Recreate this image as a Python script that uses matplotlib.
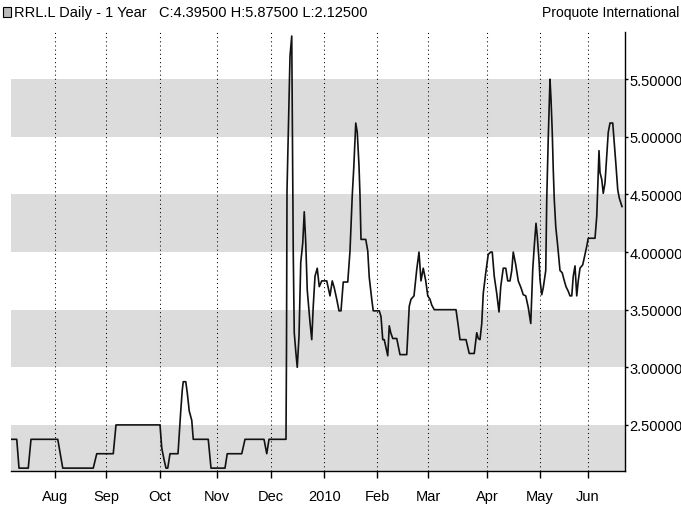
import matplotlib
matplotlib.use("Agg")
import matplotlib.pyplot as plt
from matplotlib.patches import Rectangle

plt.rcParams['font.family'] = ['Liberation Sans', 'DejaVu Sans']

# trading-day index of each vertex, and closing price
day = [0, 2.3, 3.2, 6.9, 8, 18.7, 20.7, 32.9, 34.3, 40.9, 42, 59.6, 60.3, 61.2, 62, 62.7,
       63.6, 66.8, 67.9, 68.5, 68.9, 69.9, 70.5, 71.3, 72.3, 72.9, 78.9, 80, 85.6, 86.5,
       92.3, 93.6, 101.2, 102.3, 103.2, 110, 110.2, 110.4, 111.6, 112.3, 112.5, 112.7,
       112.9, 113.3, 113.9, 114.5, 115.2, 115.9, 116.7, 117.3, 117.9, 118.5, 119.6, 120.3,
       120.9, 121.6, 122.5, 123.3, 124.3, 126.3, 127.2, 127.6, 128.5, 129.3, 130.3, 131.2,
       132, 132.9, 134.7, 135.6, 136.5, 137.1, 137.9, 138.5, 139.2, 139.6, 140, 141.9,
       142.7, 143.3, 144.3, 144.9, 147.3, 148, 148.7, 149.3, 149.9, 150.7, 151.3, 151.9,
       152.7, 154.3, 155.6, 158.3, 159.3, 160, 161.2, 162.3, 163.2, 164, 164.9, 165.9,
       166.7, 167.6, 168.3, 169.3, 178, 178.9, 179.6, 182, 183.3, 185.3, 186.3, 186.9,
       187.6, 188.3, 188.9, 189.9, 190.9, 191.9, 192.5, 193.3, 194.3, 195.2, 195.9, 196.9,
       197.9, 198.7, 199.6, 200.3, 200.9, 201.9, 202.9, 204, 204.9, 205.9, 206.9, 207.9,
       208.7, 209.3, 210, 210.5, 211.2, 211.6, 212.3, 212.9, 213.9, 214.3, 214.9, 215.6,
       216, 216.5, 216.9, 217.3, 217.9, 218.7, 219.6, 220.5, 221.2, 222, 222.9, 223.6,
       224.3, 224.9, 225.6, 226.3, 226.9, 227.6, 228.7, 229.3, 230.3, 230.9, 233.6, 234.3,
       234.9, 235.2, 235.6, 236.3, 236.9, 237.6, 238.3, 238.9, 239.6, 240.7, 241.3, 242,
       242.7, 243.3, 244.4]
close = [2.375, 2.375, 2.125, 2.125, 2.375, 2.375, 2.125, 2.125, 2.25, 2.25, 2.5, 2.5, 2.30,
         2.20, 2.125, 2.125, 2.25, 2.25, 2.62, 2.80, 2.875, 2.875, 2.78, 2.62, 2.54, 2.375,
         2.375, 2.125, 2.125, 2.25, 2.25, 2.375, 2.375, 2.25, 2.375, 2.375, 3.17, 4.53, 5.70,
         5.875, 5.24, 4.52, 4.0, 3.30, 3.14, 3.0, 3.27, 3.91, 4.08, 4.35, 4.08, 3.67, 3.39,
         3.24, 3.53, 3.79, 3.86, 3.70, 3.75, 3.75, 3.66, 3.62, 3.75, 3.69, 3.59, 3.49, 3.49,
         3.74, 3.74, 4.01, 4.49, 4.73, 5.12, 5.04, 4.75, 4.49, 4.11, 4.11, 4.01, 3.78, 3.59,
         3.49, 3.49, 3.44, 3.24, 3.24, 3.18, 3.10, 3.36, 3.30, 3.25, 3.25, 3.11, 3.11, 3.53,
         3.59, 3.62, 3.85, 4.0, 3.75, 3.86, 3.75, 3.62, 3.59, 3.54, 3.5, 3.5, 3.36, 3.24,
         3.24, 3.12, 3.12, 3.30, 3.25, 3.24, 3.38, 3.64, 3.82, 3.98, 4.0, 4.0, 3.79, 3.64,
         3.48, 3.70, 3.86, 3.86, 3.75, 3.75, 3.84, 4.0, 3.89, 3.75, 3.69, 3.63, 3.62, 3.52,
         3.38, 3.85, 4.05, 4.25, 4.14, 3.93, 3.76, 3.63, 3.69, 3.84, 4.46, 4.99, 5.5, 5.33,
         5.04, 4.72, 4.46, 4.22, 4.05, 3.84, 3.82, 3.76, 3.70, 3.66, 3.62, 3.62, 3.79, 3.88,
         3.62, 3.75, 3.86, 3.89, 3.95, 4.05, 4.12, 4.12, 4.31, 4.69, 4.88, 4.69, 4.63, 4.51,
         4.60, 4.83, 5.04, 5.12, 5.12, 4.95, 4.75, 4.54, 4.47, 4.395]

month_pos = [17.6, 38.1, 59.6, 82.5, 103.9, 125.3, 146.5, 166.9, 190.4, 211.5, 230.7]
month_lbl = ["Aug", "Sep", "Oct", "Nov", "Dec", "2010", "Feb", "Mar", "Apr", "May", "Jun"]
price_ticks = [2.5, 3.0, 3.5, 4.0, 4.5, 5.0, 5.5]
band_lows = [2.0, 3.0, 4.0, 5.0]

fig = plt.figure(figsize=(6.81, 5.06), dpi=100)
ax = fig.add_axes([11/681, 34/506, 614/681, 439/506])

# shaded bands
for lo in band_lows:
    ax.axhspan(lo, lo + 0.5, color="#dcdcdc", lw=0, zorder=0)

# dotted month lines
for p in month_pos:
    ax.axvline(p, color="black", lw=0.75, linestyle=(0, (1, 3)), zorder=1)

ax.plot(day, close, color="#111111", lw=1.2, zorder=3)

ax.set_xlim(0, 245.6)
ax.set_ylim(2.10, 5.91)

ax.set_xticks(month_pos)
ax.set_xticklabels(month_lbl)
ax.yaxis.tick_right()
ax.set_yticks(price_ticks)
ax.set_yticklabels(["%.5f" % v for v in price_ticks])
ax.tick_params(axis="x", direction="out", length=5, width=1, pad=8, labelsize=10.5)
ax.tick_params(axis="y", direction="out", length=2, width=1, pad=1, labelsize=10.5)

for s in ["left", "top"]:
    ax.spines[s].set_visible(False)
ax.spines["right"].set_linewidth(1)
ax.spines["bottom"].set_linewidth(1)

# header: small document icon, title, source
fig.patches.append(Rectangle((3/681, 1 - 18/506), 8/681, 10/506, transform=fig.transFigure,
                             facecolor="#bbbbbb", edgecolor="black", lw=0.8))
fig.text(14/681, 1 - 13/506, "RRL.L Daily - 1 Year   C:4.39500 H:5.87500 L:2.12500",
         fontsize=10.5, va="center", ha="left")
fig.text(679/681, 1 - 13/506, "Proquote International", fontsize=10, va="center", ha="right")

fig.savefig("out.png", dpi=100)
